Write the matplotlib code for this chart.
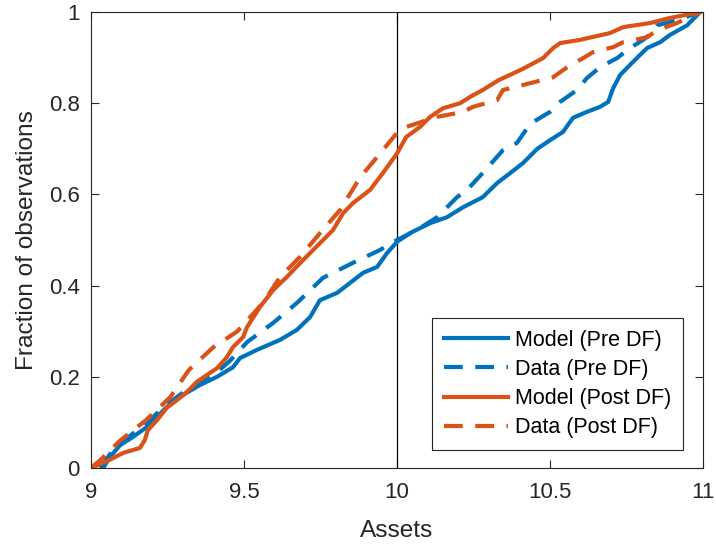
import numpy as np
import matplotlib.pyplot as plt

plt.rcParams['font.family'] = ['Liberation Sans', 'DejaVu Sans']

# CDF curves (assets, fraction of observations)
model_pre_x = [9.04, 9.062, 9.095, 9.137, 9.183, 9.216, 9.248, 9.3, 9.356, 9.412, 9.464, 9.487,
               9.542, 9.618, 9.673, 9.716, 9.748, 9.804, 9.837, 9.889, 9.935, 9.967, 10.0,
               10.042, 10.108, 10.163, 10.216, 10.28, 10.327, 10.37, 10.412, 10.458, 10.5,
               10.542, 10.575, 10.62, 10.663, 10.69, 10.706, 10.729, 10.761, 10.794, 10.817,
               10.86, 10.892, 10.948, 10.99]
model_pre_y = [0.0, 0.024, 0.05, 0.068, 0.09, 0.112, 0.134, 0.16, 0.182, 0.2, 0.221, 0.241,
               0.259, 0.281, 0.303, 0.331, 0.368, 0.384, 0.401, 0.428, 0.441, 0.471, 0.496,
               0.515, 0.537, 0.55, 0.572, 0.594, 0.625, 0.647, 0.669, 0.7, 0.719,
               0.737, 0.768, 0.781, 0.792, 0.803, 0.833, 0.862, 0.884, 0.906, 0.921,
               0.934, 0.95, 0.971, 1.0]

data_pre_x = [9.03, 9.062, 9.095, 9.127, 9.18, 9.216, 9.25, 9.3, 9.36, 9.42, 9.454, 9.51,
              9.595, 9.673, 9.758, 9.856, 9.944, 10.0, 10.065, 10.131, 10.196, 10.229, 10.28,
              10.346, 10.392, 10.435, 10.5, 10.533, 10.588, 10.62, 10.663, 10.719, 10.761,
              10.804, 10.837, 10.85, 10.915, 10.99]
data_pre_y = [0.0, 0.03, 0.055, 0.07, 0.098, 0.12, 0.14, 0.165, 0.19, 0.215, 0.235, 0.276,
              0.318, 0.362, 0.417, 0.45, 0.478, 0.5, 0.522, 0.55, 0.594, 0.61, 0.647,
              0.697, 0.713, 0.755, 0.781, 0.803, 0.829, 0.855, 0.879, 0.899, 0.921,
              0.939, 0.956, 0.971, 0.982, 1.0]

model_post_x = [9.0, 9.062, 9.105, 9.16, 9.176, 9.186, 9.216, 9.248, 9.281, 9.314, 9.346,
                9.379, 9.412, 9.444, 9.464, 9.497, 9.51, 9.552, 9.595, 9.64, 9.693, 9.748,
                9.791, 9.824, 9.856, 9.912, 9.954, 10.0, 10.03, 10.075, 10.108, 10.15,
                10.206, 10.239, 10.28, 10.33, 10.41, 10.435, 10.477, 10.51, 10.533, 10.598,
                10.696, 10.739, 10.827, 10.892, 10.99]
model_post_y = [0.0, 0.018, 0.033, 0.044, 0.061, 0.083, 0.105, 0.132, 0.149, 0.167, 0.189,
                0.204, 0.219, 0.243, 0.265, 0.287, 0.309, 0.353, 0.39, 0.419, 0.456, 0.493,
                0.522, 0.559, 0.581, 0.61, 0.647, 0.69, 0.726, 0.748, 0.77, 0.789,
                0.8, 0.814, 0.829, 0.85, 0.875, 0.884, 0.899, 0.921, 0.932, 0.939,
                0.954, 0.967, 0.976, 0.987, 1.0]

data_post_x = [9.0, 9.03, 9.095, 9.18, 9.26, 9.32, 9.4, 9.477, 9.562, 9.618, 9.683, 9.748,
               9.814, 9.88, 9.935, 10.0, 10.03, 10.13, 10.216, 10.248, 10.327, 10.346, 10.435,
               10.51, 10.556, 10.608, 10.64, 10.706, 10.739, 10.817, 10.85, 10.915, 10.99]
data_post_y = [0.0, 0.017, 0.06, 0.105, 0.156, 0.215, 0.265, 0.299, 0.362, 0.419, 0.463, 0.515,
               0.566, 0.638, 0.682, 0.735, 0.748, 0.77, 0.781, 0.792, 0.807, 0.829, 0.844,
               0.857, 0.879, 0.899, 0.912, 0.923, 0.934, 0.945, 0.96, 0.976, 1.0]

blue = '#0072BD'
orange = '#D95319'
ink = '#262626'

fig = plt.figure(figsize=(7.16, 5.48), dpi=100)
ax = fig.add_axes([0.127, 0.146, 0.855, 0.832])

ax.axvline(10, color='black', linewidth=0.9)
dash = (0, (4.5, 3.0))
ax.plot(model_pre_x, model_pre_y, color=blue, linewidth=3, label='Model (Pre DF)')
ax.plot(data_pre_x, data_pre_y, color=blue, linewidth=3, linestyle=dash, label='Data (Pre DF)')
ax.plot(model_post_x, model_post_y, color=orange, linewidth=3, label='Model (Post DF)')
ax.plot(data_post_x, data_post_y, color=orange, linewidth=3, linestyle=dash, label='Data (Post DF)')

ax.set_xlim(9, 11)
ax.set_ylim(0, 1)
ax.set_xticks([9, 9.5, 10, 10.5, 11])
ax.set_xticklabels(['9', '9.5', '10', '10.5', '11'])
ax.set_yticks([0, 0.2, 0.4, 0.6, 0.8, 1])
ax.set_yticklabels(['0', '0.2', '0.4', '0.6', '0.8', '1'])
ax.tick_params(direction='in', top=True, right=True, labelsize=16, colors=ink, length=6,
               width=0.8)
ax.tick_params(axis='x', pad=10)
ax.tick_params(axis='y', pad=8)
for s in ax.spines.values():
    s.set_color(ink)
    s.set_linewidth(0.8)

ax.set_xlabel('Assets', fontsize=17.6, color=ink, labelpad=12)
ax.set_ylabel('Fraction of observations', fontsize=17.6, color=ink, labelpad=8)

leg = ax.legend(loc='lower right', bbox_to_anchor=(0.967, 0.039), borderaxespad=0,
                fontsize=15.5, fancybox=False, framealpha=1, edgecolor=ink,
                handlelength=3.0, borderpad=0.55, labelspacing=0.38, handletextpad=0.3)
leg.get_frame().set_linewidth(0.8)
for t in leg.get_texts():
    t.set_color('black')

fig.savefig('out.png', dpi=100)
